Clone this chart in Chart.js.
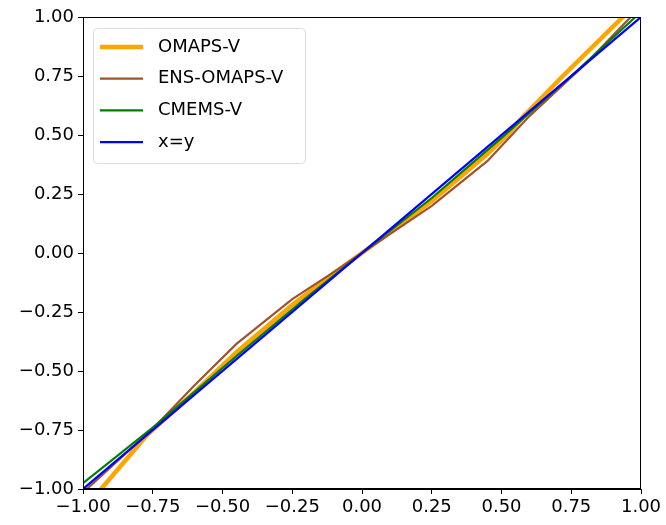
<!DOCTYPE html>
<html>
<head>
<meta charset="utf-8">
<script src="https://cdn.jsdelivr.net/npm/chart.js@4/dist/chart.umd.min.js"></script>
<style>
  html, body { margin: 0; padding: 0; background: #fff; }
  #wrap { width: 666px; height: 525px; }
</style>
</head>
<body>
<div id="wrap"><canvas id="grafico" width="666" height="525"></canvas></div>
<script>
// valores
const labels = ['OMAPS-V', 'ENS-OMAPS-V', 'CMEMS-V', 'x=y'];
const cores = ['#FFA500', '#A0522D', '#008000', '#0000FF'];

const omapsX = [-1.0, -0.935, -0.77, -0.6, -0.45, -0.25, -0.1, 0, 0.1, 0.26, 0.45, 0.52, 0.58, 0.72, 0.935, 1.0];
const omapsY = [-1.09, -1.0, -0.77, -0.59, -0.42, -0.22, -0.085, 0, 0.088, 0.23, 0.42, 0.5, 0.58, 0.75, 1.0, 1.09];

const ensX = [-1.0, -0.75, -0.6, -0.45, -0.25, -0.1, 0, 0.1, 0.25, 0.45, 0.6, 0.8, 0.963, 1.0];
const ensY = [-1.015, -0.745, -0.56, -0.385, -0.195, -0.08, 0, 0.08, 0.2, 0.39, 0.58, 0.8, 1.0, 1.045];

const cmemsX = [-1.0, -0.75, -0.45, -0.2, 0, 0.25, 0.5, 0.75, 0.98, 1.0];
const cmemsY = [-0.975, -0.74, -0.437, -0.19, 0, 0.233, 0.488, 0.75, 1.0, 1.022];

const idX = [-1, 1];
const idY = [-1, 1];

const tickLabels = ['−1.00', '−0.75', '−0.50', '−0.25', '0.00', '0.25', '0.50', '0.75', '1.00'];

const fonte = { family: 'DejaVu Sans', size: 18 };

function pontos(xs, ys) {
    return xs.map((x, i) => ({ x: x, y: ys[i] }));
}

const series = [
    { x: omapsX, y: omapsY, largura: 4.5 },
    { x: ensX, y: ensY, largura: 2.2 },
    { x: cmemsX, y: cmemsY, largura: 2.2 },
    { x: idX, y: idY, largura: 2.2 }
];

function rotulo(v) {
    const i = Math.round((v + 1) / 0.25);
    return tickLabels[i] !== undefined ? tickLabels[i] : '';
}

// moldura e legenda no estilo matplotlib
const molduraLegenda = {
    id: 'molduraLegenda',
    afterDraw(chart) {
        const ctx = chart.ctx;
        const a = chart.chartArea;
        ctx.save();
        ctx.strokeStyle = '#000';
        ctx.lineWidth = 1;
        ctx.strokeRect(a.left + 0.5, a.top + 0.5, a.right - a.left - 1, a.bottom - a.top - 1);

        const bx = 93, by = 28, bw = 212, bh = 135;
        ctx.beginPath();
        ctx.roundRect(bx + 0.5, by + 0.5, bw, bh, 4);
        ctx.fillStyle = 'rgba(255,255,255,0.8)';
        ctx.fill();
        ctx.strokeStyle = '#dcdcdc';
        ctx.lineWidth = 1;
        ctx.stroke();

        ctx.font = fonte.size + 'px ' + fonte.family;
        ctx.textBaseline = 'middle';
        ctx.fillStyle = '#000';
        labels.forEach((txt, i) => {
            const yy = 47 + i * 31.7;
            ctx.beginPath();
            ctx.strokeStyle = cores[i];
            ctx.lineWidth = series[i].largura;
            ctx.moveTo(100, yy);
            ctx.lineTo(143, yy);
            ctx.stroke();
            ctx.fillText(txt, 158, yy);
        });
        ctx.restore();
    }
};

const fundo = {
    id: 'fundo',
    beforeDraw(chart) {
        const ctx = chart.ctx;
        ctx.save();
        ctx.fillStyle = '#fff';
        ctx.fillRect(0, 0, chart.width, chart.height);
        ctx.restore();
    }
};

const ctx = document.getElementById('grafico').getContext('2d');

new Chart(ctx, {
    type: 'scatter',
    data: {
        datasets: series.map((s, i) => ({
            label: labels[i],
            data: pontos(s.x, s.y),
            showLine: true,
            borderColor: cores[i],
            backgroundColor: cores[i],
            borderWidth: s.largura,
            pointRadius: 0,
            tension: 0,
            order: series.length - i
        }))
    },
    options: {
        responsive: false,
        animation: false,
        layout: { padding: { top: 17, right: 25, left: 0, bottom: 0 } },
        plugins: {
            legend: { display: false },
            tooltip: { enabled: false }
        },
        scales: {
            x: {
                type: 'linear',
                min: -1,
                max: 1,
                ticks: {
                    stepSize: 0.25,
                    color: '#000',
                    font: fonte,
                    padding: 3,
                    maxRotation: 0,
                    callback: v => rotulo(v)
                },
                grid: { drawOnChartArea: false, tickLength: 5, tickColor: '#000', tickWidth: 1 },
                border: { color: '#000', width: 1 },
                afterFit: scale => { scale.height = 36; }
            },
            y: {
                type: 'linear',
                min: -1,
                max: 1,
                ticks: {
                    stepSize: 0.25,
                    color: '#000',
                    font: fonte,
                    padding: 4,
                    callback: v => rotulo(v)
                },
                grid: { drawOnChartArea: false, tickLength: 5, tickColor: '#000', tickWidth: 1 },
                border: { color: '#000', width: 1 },
                afterFit: scale => { scale.width = 83; }
            }
        }
    },
    plugins: [fundo, molduraLegenda]
});
</script>
</body>
</html>
